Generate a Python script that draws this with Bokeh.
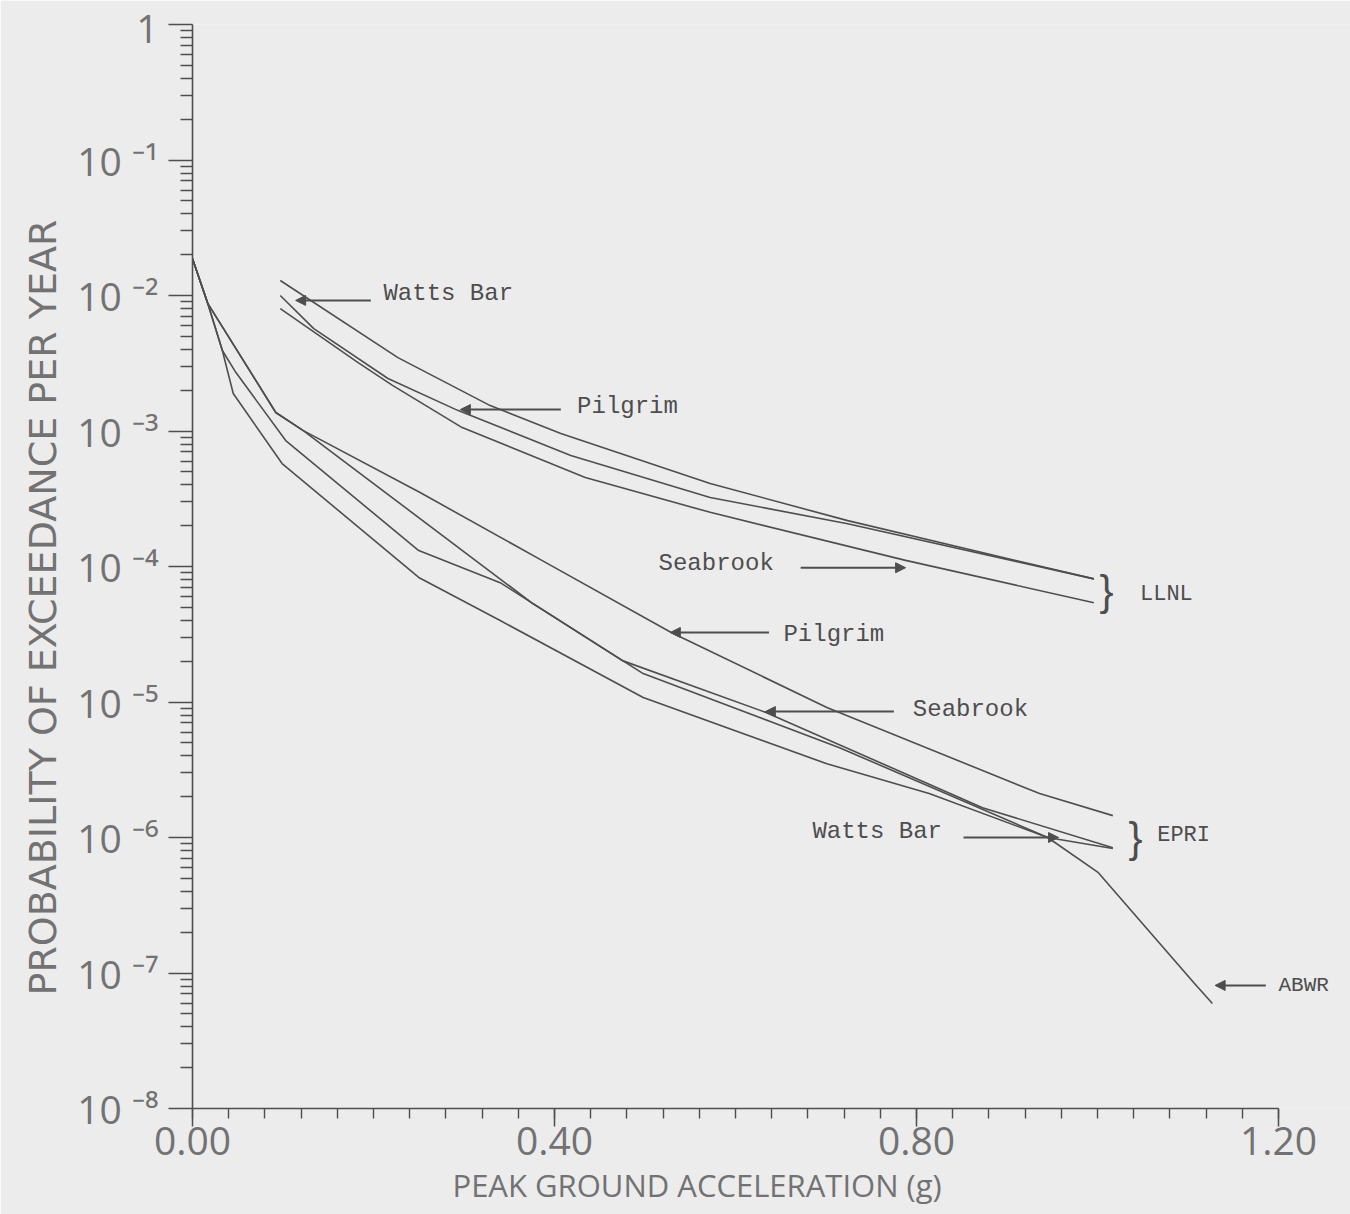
from bokeh.plotting import figure
from bokeh.models import Range1d, FixedTicker, CustomJSTickFormatter, Label, Arrow, NormalHead, Title
from bokeh.embed import file_html
from bokeh.resources import INLINE

# ---- data ----
x_watts_llnl = [0.097, 0.227, 0.329, 0.407, 0.572, 0.724, 0.996]
y_watts_llnl = [1.29e-2, 3.48e-3, 1.54e-3, 9.6e-4, 4.1e-4, 2.18e-4, 8.1e-5]

x_pilgrim_llnl = [0.097, 0.134, 0.216, 0.293, 0.418, 0.572, 0.724, 0.996]
y_pilgrim_llnl = [1.0e-2, 5.7e-3, 2.44e-3, 1.42e-3, 6.6e-4, 3.23e-4, 2.07e-4, 8.1e-5]

x_seabrook_llnl = [0.097, 0.183, 0.221, 0.298, 0.434, 0.572, 0.788, 0.996]
y_seabrook_llnl = [8.0e-3, 3.2e-3, 2.17e-3, 1.06e-3, 4.54e-4, 2.51e-4, 1.11e-4, 5.4e-5]

x_pilgrim_epri = [0.0, 0.017, 0.092, 0.122, 0.252, 0.386, 0.529, 0.701, 0.936, 1.017]
y_pilgrim_epri = [1.87e-2, 8.7e-3, 1.37e-3, 1.01e-3, 3.5e-4, 1.11e-4, 3.26e-5, 9.1e-6, 2.11e-6, 1.45e-6]

x_seabrook_epri = [0.0, 0.017, 0.033, 0.048, 0.103, 0.250, 0.340, 0.475, 0.633, 0.873, 1.017]
y_seabrook_epri = [1.87e-2, 8.7e-3, 3.93e-3, 2.7e-3, 8.5e-4, 1.31e-4, 7.6e-5, 2.02e-5, 8.4e-6, 1.66e-6, 8.4e-7]

x_watts_epri = [0.0, 0.017, 0.092, 0.122, 0.376, 0.498, 0.715, 0.945, 1.017]
y_watts_epri = [1.87e-2, 8.7e-3, 1.37e-3, 1.01e-3, 5.33e-5, 1.62e-5, 4.6e-6, 1.0e-6, 8.3e-7]

x_abwr = [0.0, 0.017, 0.033, 0.045, 0.099, 0.250, 0.340, 0.498, 0.701, 0.814, 0.945, 1.001, 1.107, 1.127]
y_abwr = [1.87e-2, 8.7e-3, 3.93e-3, 1.89e-3, 5.75e-4, 8.3e-5, 3.99e-5, 1.08e-5, 3.5e-6, 2.11e-6, 1.0e-6, 5.5e-7, 8.4e-8, 5.96e-8]

x_tick_values = [0.0, 0.4, 0.8, 1.2]
x_tick_labels = ["0.00", "0.40", "0.80", "1.20"]
y_tick_values = [1e-8, 1e-7, 1e-6, 1e-5, 1e-4, 1e-3, 1e-2, 1e-1, 1.0]
y_tick_labels = ["1", "10 \u207b\u00b9", "10 \u207b\u00b2", "10 \u207b\u00b3", "10 \u207b\u2074",
                 "10 \u207b\u2075", "10 \u207b\u2076", "10 \u207b\u2077", "10 \u207b\u2078"]
x_title = "PEAK GROUND ACCELERATION (g)"
y_title = "PROBABILITY OF EXCEEDANCE PER YEAR"

# annotation texts: (text, x, y, font size)
labels = [
    ("Watts Bar", 0.211, 1.03e-2, "24px"),
    ("Pilgrim", 0.425, 1.52e-3, "24px"),
    ("Seabrook", 0.515, 1.05e-4, "24px"),
    ("LLNL", 1.047, 6.2e-5, "22px"),
    ("Pilgrim", 0.653, 3.15e-5, "24px"),
    ("Seabrook", 0.796, 8.8e-6, "24px"),
    ("Watts Bar", 0.685, 1.11e-6, "24px"),
    ("EPRI", 1.066, 1.03e-6, "22px"),
    ("ABWR", 1.200, 8.1e-8, "21px"),
]
# arrows: (x_start, y_start, x_end, y_end)
arrows = [
    (0.197, 9.2e-3, 0.114, 9.2e-3),
    (0.407, 1.44e-3, 0.296, 1.44e-3),
    (0.672, 9.8e-5, 0.788, 9.8e-5),
    (0.637, 3.26e-5, 0.528, 3.26e-5),
    (0.775, 8.5e-6, 0.633, 8.5e-6),
    (0.852, 1.0e-6, 0.957, 1.0e-6),
    (1.186, 8.1e-8, 1.130, 8.1e-8),
]
braces = [(1.010, 6.6e-5), (1.042, 1.0e-6)]

BG = "#ececec"
INK = "#4e4e4e"
GREY = "#727272"

p = figure(width=1350, height=1214, output_backend="svg", toolbar_location=None,
           y_axis_type="log", x_range=Range1d(0, 1.2796), y_range=Range1d(1e-8, 1.0),
           min_border_left=192, min_border_right=0, min_border_top=24, min_border_bottom=106)
p.background_fill_color = BG
p.border_fill_color = BG
p.outline_line_color = None
p.grid.visible = False

series = [
    (x_watts_llnl, y_watts_llnl), (x_pilgrim_llnl, y_pilgrim_llnl), (x_seabrook_llnl, y_seabrook_llnl),
    (x_pilgrim_epri, y_pilgrim_epri), (x_seabrook_epri, y_seabrook_epri),
    (x_watts_epri, y_watts_epri), (x_abwr, y_abwr),
]
for xs, ys in series:
    p.line(xs, ys, line_color=INK, line_width=1.6)

for txt, lx, ly, fs in labels:
    p.add_layout(Label(x=lx, y=ly, text=txt, text_font="Liberation Mono", text_font_size=fs,
                       text_color=INK, text_baseline="middle", text_align="left"))
for bx, by in braces:
    p.add_layout(Label(x=bx, y=by, text="}", text_font="Liberation Sans", text_font_size="42px",
                       text_color=INK, text_baseline="middle", text_align="center"))
for xs0, ys0, xe0, ye0 in arrows:
    p.add_layout(Arrow(x_start=xs0, y_start=ys0, x_end=xe0, y_end=ye0, line_color=INK, line_width=2,
                       end=NormalHead(size=10, fill_color=INK, line_color=INK)))

# x axis
xa = p.xaxis[0]
xa.bounds = (0, 1.2)
xa.ticker = FixedTicker(ticks=x_tick_values, minor_ticks=[round(0.04 * i, 2) for i in range(31)])
xa.major_label_overrides = {v: s for v, s in zip(x_tick_values, x_tick_labels)}
ya = p.yaxis[0]
for ax in (xa, ya):
    ax.axis_line_color = INK
    ax.axis_line_width = 1.6
    ax.major_tick_line_color = INK
    ax.minor_tick_line_color = INK
    ax.major_tick_line_width = 1.5
    ax.minor_tick_line_width = 1.4
    ax.major_tick_in = 0
    ax.minor_tick_in = 0
    ax.major_label_text_font = "Open Sans"
    ax.major_label_text_color = GREY
    ax.major_label_text_font_size = "39px"
xa.major_tick_out = 18
xa.minor_tick_out = 10
xa.major_label_standoff = 0

ya.ticker = FixedTicker(ticks=y_tick_values,
                        minor_ticks=[k * 10.0 ** e for e in range(-8, 0) for k in range(2, 10)])
ya.formatter = CustomJSTickFormatter(args=dict(labels=y_tick_labels),
                                     code="return labels[Math.round(-Math.log10(tick))];")
ya.major_tick_out = 24
ya.minor_tick_out = 12
ya.major_label_standoff = 10

# axis titles as side titles so that they can be offset like the original
p.add_layout(Title(text=x_title, align="left", offset=260, text_font="Open Sans",
                   text_font_size="31px", text_font_style="normal", text_color=GREY, standoff=8), "below")
p.add_layout(Title(text=y_title, align="left", offset=113, text_font="DejaVu Sans",
                   text_font_size="38px", text_font_style="normal", text_color=GREY, standoff=20), "left")

open("out.html", "w").write(file_html(p, INLINE))
